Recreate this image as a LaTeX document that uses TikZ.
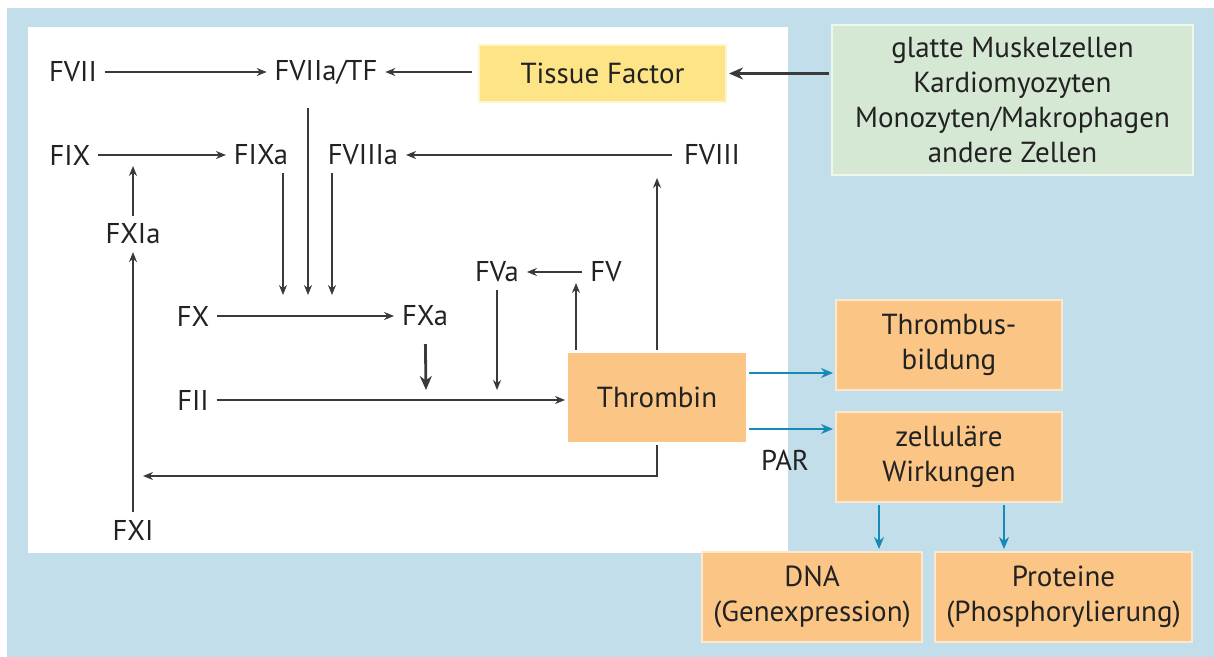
\documentclass[tikz,border=0pt]{standalone}
\usepackage{fontspec}
\setmainfont{PT Sans}
\usetikzlibrary{positioning,arrows.meta}
\definecolor{panelBlue}{HTML}{C2DEEB}
\definecolor{tfFill}{HTML}{FDE587}
\definecolor{cellFill}{HTML}{D5E8D4}
\definecolor{thrFill}{HTML}{FAC585}
\definecolor{flowBlue}{HTML}{1689B6}
\definecolor{lineGray}{HTML}{3A3A3A}
\definecolor{textDark}{HTML}{222222}

\begin{document}
\begin{tikzpicture}[
    x=0.5pt, y=-0.5pt,
    factor/.style={
        inner sep=0pt, outer sep=4pt,
        font=\fontsize{14.3}{17}\selectfont, text=textDark
    },
    block/.style={
        rectangle, draw=white!60!#1, fill=#1, line width=0.6pt,
        align=center, inner sep=2pt, outer sep=1.5pt,
        font=\fontsize{14.5}{17.5}\selectfont, text=textDark
    },
    arrow/.style={-{Stealth[length=5pt,width=4pt]}, line width=0.7pt, draw=lineGray},
    bold arrow/.style={-{Stealth[length=7pt,width=6pt]}, line width=1.4pt, draw=lineGray},
    flow/.style={-{Stealth[length=6pt,width=5pt]}, line width=0.9pt, draw=flowBlue}
]
  \useasboundingbox (0,0) rectangle (1214,657);
  % Background
  \fill[panelBlue] (7,8) rectangle (1214,657);
  \fill[white] (28,27) rectangle (788,553);

  % Factors
  \node[factor] (fvii)   at (73,72)   {FVII};
  \node[factor] (fviiatf) at (326,72) {FVIIa/TF};
  \node[factor] (fix)    at (70,155)  {FIX};
  \node[factor] (fixa)   at (261,155) {FIXa};
  \node[factor] (fviiia) at (363,155) {FVIIIa};
  \node[factor] (fviii)  at (712,155) {FVIII};
  \node[factor] (fxia)   at (133,234) {FXIa};
  \node[factor] (fxi)    at (133,530) {FXI};
  \node[factor] (fx)     at (193,316) {FX};
  \node[factor] (fxa)    at (425,316) {FXa};
  \node[factor] (fii)    at (193,400) {FII};
  \node[factor] (fva)    at (497,272) {FVa};
  \node[factor] (fv)     at (606,272) {FV};

  % Boxes
  \node[block=tfFill, minimum width=123.5pt, minimum height=28.5pt] (tf) at (602.5,73.5) {Tissue Factor};
  \node[block=cellFill, minimum width=180.5pt, minimum height=75pt] (cells) at (1012.5,100)
      {glatte Muskelzellen\\Kardiomyozyten\\Monozyten/Makrophagen\\andere Zellen};
  \node[block=thrFill, draw=none, minimum width=89pt, minimum height=44.5pt] (thr) at (657,397.5) {Thrombin};
  \node[block=thrFill, minimum width=113pt, minimum height=45pt] (thb) at (949,345) {Thrombus-\\bildung};
  \node[block=thrFill, minimum width=113pt, minimum height=45pt] (zel) at (949,457) {zelluläre\\Wirkungen};
  \node[block=thrFill, minimum width=110pt, minimum height=45pt] (dna) at (812,597) {DNA\\(Genexpression)};
  \node[block=thrFill, minimum width=128.5pt, minimum height=45pt] (prot) at (1063.5,597) {Proteine\\(Phosphorylierung)};
  \node[factor] (par) at (785,460) {PAR};

  % Join points
  \coordinate (ixin)   at (133,166);
  \coordinate (xin1)   at (283,295);
  \coordinate (xin2)   at (308,295);
  \coordinate (xin3)   at (332,295);
  \coordinate (iiin)   at (426,390);
  \coordinate (vain)   at (497,390);
  \coordinate (vin)    at (576,283);
  \coordinate (viiiin) at (657,178);
  \coordinate (xiin)   at (143,476);

  % Edges
  \draw[arrow] (fvii) -- (fviiatf);
  \draw[arrow, shorten <=2pt] (tf.west |- fviiatf) -- (fviiatf);
  \draw[bold arrow] (cells.west |- tf.east) -- (tf.east);
  \draw[arrow] (fix) -- (fixa);
  \draw[arrow, shorten <=2pt] (fviii) -- (fviiia);
  \draw[arrow] (fxia) -- (ixin);
  \draw[arrow] (fxi) -- (fxia);
  \draw[arrow] (fixa.south -| xin1) -- (xin1);
  \draw[arrow, shorten <=8pt] (fviiatf.south -| xin2) -- (xin2);
  \draw[arrow] (fviiia.south -| xin3) -- (xin3);
  \draw[arrow] (fx) -- (fxa);
  \draw[bold arrow, shorten <=5pt] (fxa) -- (iiin);
  \draw[arrow] (fva) -- (vain);
  \draw[arrow] (fv) -- (fva);
  \draw[arrow] (fii) -- (fii -| thr.west);
  \draw[arrow] (thr.north -| vin) -- (vin);
  \draw[arrow] (thr.north -| viiiin) -- (viiiin);
  \draw[arrow] (thr.south) |- (xiin);

  % Thrombin effects
  \draw[flow] ([yshift=12.25pt]thr.east) -- ([yshift=12.25pt]thr.east -| thb.west);
  \draw[flow] ([yshift=-15.75pt]thr.east) -- ([yshift=-15.75pt]thr.east -| zel.west);
  \draw[flow] ([xshift=-35pt]zel.south) -- ([xshift=-35pt]zel.south |- dna.north);
  \draw[flow] ([xshift=27.5pt]zel.south) -- ([xshift=27.5pt]zel.south |- prot.north);

\end{tikzpicture}
\end{document}
